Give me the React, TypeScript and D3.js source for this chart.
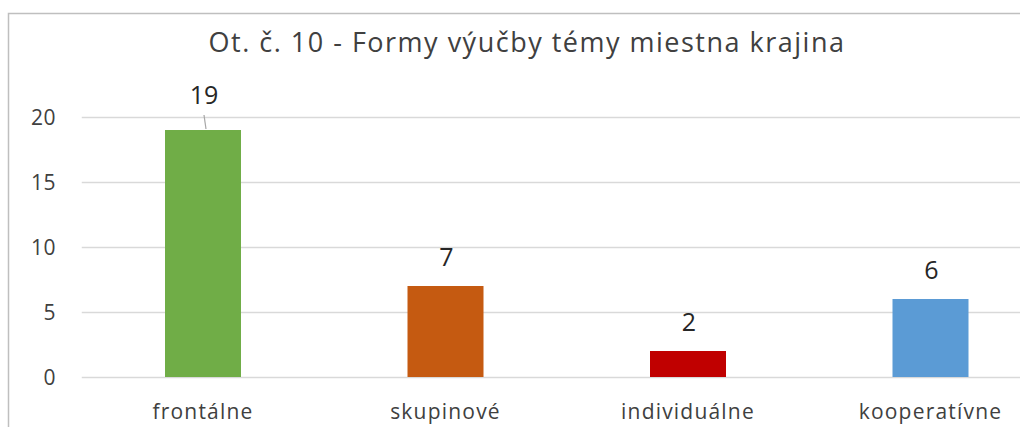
import React, { useEffect, useRef } from "react";
import * as d3 from "d3";

const categories = ["frontálne", "skupinové", "individuálne", "kooperatívne"];
const values = [19, 7, 2, 6];
const barColors = ["#70AD47", "#C55A11", "#C00000", "#5B9BD5"];
const yTicks = [0, 5, 10, 15, 20];
const chartTitle = "Ot. č. 10 - Formy výučby témy miestna krajina";

const FONT = "'Open Sans', Lato, sans-serif";

const App: React.FC = () => {
  const ref = useRef<SVGSVGElement | null>(null);

  useEffect(() => {
    document.documentElement.style.overflow = "hidden";
    document.body.style.overflow = "hidden";
    if (!ref.current) return;
    const width = 1020;
    const height = 427;
    const svg = d3.select(ref.current);
    svg.selectAll("*").remove();
    svg.attr("width", width).attr("height", height);

    // chart frame: only the left and top edges fall inside the picture
    svg.append("rect")
      .attr("width", width)
      .attr("height", height)
      .attr("fill", "#fff");
    svg.append("path")
      .attr("d", `M8.5,${height}V13.5H${width}`)
      .attr("fill", "none")
      .attr("stroke", "#BFBFBF")
      .attr("stroke-width", 1.5);

    svg.append("text")
      .attr("x", 527)
      .attr("y", 52)
      .attr("text-anchor", "middle")
      .attr("fill", "#404040")
      .attr("font-family", FONT)
      .attr("font-size", "27px")
      .attr("letter-spacing", "1.5px")
      .text(chartTitle);

    const left = 81.75;
    const step = 242.5;
    const x = d3.scaleBand<string>()
      .domain(categories)
      .range([left, left + step * categories.length])
      .paddingInner(1 - 76 / step)
      .paddingOuter((1 - 76 / step) / 2);

    const y = d3.scaleLinear().domain([0, 20]).range([377, 117]);

    const g = svg.append("g");

    // gridlines
    g.selectAll("line.grid")
      .data(yTicks)
      .enter()
      .append("line")
      .attr("x1", left)
      .attr("x2", width)
      .attr("y1", d => y(d) + 0.5)
      .attr("y2", d => y(d) + 0.5)
      .attr("stroke", "#D9D9D9")
      .attr("stroke-width", 1.5);

    // y tick labels
    g.selectAll("text.ytick")
      .data(yTicks)
      .enter()
      .append("text")
      .attr("x", 56)
      .attr("y", d => y(d))
      .attr("dy", "0.36em")
      .attr("text-anchor", "end")
      .attr("fill", "#404040")
      .attr("font-family", FONT)
      .attr("font-size", "21px")
      .attr("letter-spacing", "0.5px")
      .text(d => String(d));

    // bars
    g.selectAll("rect.bar")
      .data(values)
      .enter()
      .append("rect")
      .attr("x", (_, i) => x(categories[i])!)
      .attr("y", d => y(d))
      .attr("width", x.bandwidth())
      .attr("height", d => y(0) - y(d))
      .attr("fill", (_, i) => barColors[i]);

    // category labels
    g.selectAll("text.cat")
      .data(categories)
      .enter()
      .append("text")
      .attr("x", d => x(d)! + x.bandwidth() / 2)
      .attr("y", 419)
      .attr("text-anchor", "middle")
      .attr("fill", "#404040")
      .attr("font-family", FONT)
      .attr("font-size", "21px")
      .attr("letter-spacing", "1.2px")
      .text(d => d);

    // data labels; the first one was dragged up and gets a leader line
    const movedIndex = 0;
    values.forEach((v, i) => {
      const cx = x(categories[i])! + x.bandwidth() / 2;
      const top = y(v);
      const baseline = i === movedIndex ? top - 26 : top - 20;
      if (i === movedIndex) {
        g.append("line")
          .attr("x1", cx + 1)
          .attr("y1", baseline + 11)
          .attr("x2", cx + 3)
          .attr("y2", top - 1)
          .attr("stroke", "#A6A6A6")
          .attr("stroke-width", 1.2);
      }
      g.append("text")
        .attr("x", cx + 1)
        .attr("y", baseline)
        .attr("text-anchor", "middle")
        .attr("fill", "#262626")
        .attr("font-family", FONT)
        .attr("font-size", "25px")
        .text(String(v));
    });
  }, []);

  return (
    <svg
      ref={ref}
      style={{ position: "absolute", left: 0, top: 0, display: "block", overflow: "hidden" }}
    />
  );
};

export default App;
